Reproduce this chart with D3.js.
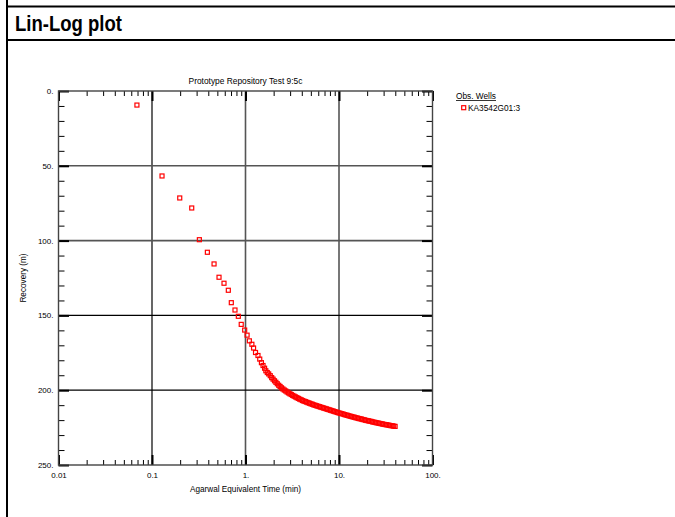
<!DOCTYPE html>
<html>
<head>
<meta charset="utf-8">
<script src="https://cdn.jsdelivr.net/npm/d3@7"></script>
<style>
  html, body { margin: 0; padding: 0; background: #fff; }
  svg { display: block; }
  text { font-family: "Liberation Sans", Arial, sans-serif; fill: #000; }
</style>
</head>
<body>
<svg id="chart" width="675" height="517"></svg>
<script>
// Observation well KA3542G01:3 — recovery vs. Agarwal equivalent time
const agarwalTime = [
  0.069, 0.128, 0.198, 0.266, 0.321, 0.391, 0.461, 0.521, 0.589, 0.655,
  0.705, 0.772, 0.838, 0.90, 0.98, 1.04, 1.10, 1.17, 1.22, 1.28,
  1.36, 1.42, 1.48, 1.54, 1.60, 1.65, 1.71, 1.77, 1.84,
  1.905, 1.972, 2.042, 2.113, 2.188, 2.265, 2.344, 2.427, 2.512, 2.600,
  2.692, 2.786, 2.884, 2.985, 3.090, 3.199, 3.311, 3.428, 3.548, 3.673,
  3.802, 3.936, 4.074, 4.217, 4.365, 4.519, 4.677, 4.842, 5.012, 5.188,
  5.370, 5.559, 5.754, 5.957, 6.166, 6.383, 6.607, 6.839, 7.079, 7.328,
  7.586, 7.852, 8.128, 8.414, 8.710, 9.016, 9.333, 9.661, 10.00, 10.35,
  10.72, 11.09, 11.48, 11.89, 12.30, 12.74, 13.18, 13.65, 14.13, 14.62,
  15.14, 15.67, 16.22, 16.79, 17.38, 17.99, 18.62, 19.28, 19.95, 20.65,
  21.38, 22.13, 22.91, 23.71, 24.55, 25.41, 26.30, 27.23, 28.18, 29.17,
  30.20, 31.26, 32.36, 33.50, 34.67, 35.89, 37.15, 38.46, 39.81
];
const recovery = [
  9.4, 56.8, 71.5, 78.2, 99.4, 107.8, 115.6, 124.5, 128.5, 133.2,
  141.5, 146.4, 150.6, 156.0, 159.8, 163.2, 167.0, 169.3, 171.8, 174.8,
  176.8, 179.2, 181.6, 183.5, 185.3, 187.0, 188.2, 189.1, 190.3,
  191.6, 192.6, 193.7, 194.7, 195.7, 196.7, 197.5, 198.4, 199.2, 199.9,
  200.5, 201.2, 201.8, 202.4, 202.9, 203.5, 204.0, 204.5, 205.0, 205.5,
  206.0, 206.4, 206.9, 207.3, 207.6, 208.0, 208.4, 208.7, 209.1, 209.4,
  209.8, 210.1, 210.4, 210.7, 211.0, 211.3, 211.6, 211.9, 212.2, 212.5,
  212.8, 213.1, 213.4, 213.7, 214.0, 214.3, 214.6, 214.9, 215.2, 215.5,
  215.7, 216.0, 216.3, 216.6, 216.8, 217.1, 217.4, 217.6, 217.9, 218.1,
  218.4, 218.6, 218.9, 219.1, 219.3, 219.6, 219.8, 220.1, 220.3, 220.5,
  220.7, 220.9, 221.2, 221.4, 221.6, 221.8, 222.0, 222.2, 222.4, 222.6,
  222.8, 223.0, 223.1, 223.3, 223.5, 223.7, 223.8, 224.0, 224.2
];

const xDecades = [0.01, 0.1, 1, 10, 100];
const xTickLabels = ["0.01", "0.1", "1.", "10.", "100."];
const xMinorTicks = [
  0.02, 0.03, 0.04, 0.05, 0.06, 0.07, 0.08, 0.09,
  0.2, 0.3, 0.4, 0.5, 0.6, 0.7, 0.8, 0.9,
  2, 3, 4, 5, 6, 7, 8, 9,
  20, 30, 40, 50, 60, 70, 80, 90
];
const yMajorTicks = [0, 50, 100, 150, 200, 250];
const yTickLabels = ["0.", "50.", "100.", "150.", "200.", "250."];
const yMinorTicks = [10, 20, 30, 40, 60, 70, 80, 90, 110, 120, 130, 140,
                     160, 170, 180, 190, 210, 220, 230, 240];

const pageTitle = "Lin-Log plot";
const chartTitle = "Prototype Repository Test 9:5c";
const xTitle = "Agarwal Equivalent Time (min)";
const yTitle = "Recovery (m)";
const legendTitle = "Obs. Wells";
const seriesName = "KA3542G01:3";

const svg = d3.select("#chart");

// Page header frame
svg.append("line").attr("x1", 7).attr("x2", 675).attr("y1", 6.5).attr("y2", 6.5)
  .attr("stroke", "#000").attr("stroke-width", 2);
svg.append("line").attr("x1", 7).attr("x2", 675).attr("y1", 40).attr("y2", 40)
  .attr("stroke", "#000").attr("stroke-width", 2);
svg.append("line").attr("x1", 7).attr("x2", 7).attr("y1", 0).attr("y2", 517)
  .attr("stroke", "#000").attr("stroke-width", 2);
svg.append("text").attr("x", 15).attr("y", 31)
  .attr("textLength", 107).attr("lengthAdjust", "spacingAndGlyphs")
  .style("font-family", "'Liberation Sans Narrow', 'Liberation Sans', Arial, sans-serif")
  .style("font-size", "22px").style("font-weight", "bold")
  .text(pageTitle);

// Plot area
const L = 58.5, R = 432.5, T = 91, B = 465;
const x = d3.scaleLog().domain([0.01, 100]).range([L, R]);
const y = d3.scaleLinear().domain([0, 250]).range([T, B]);

// Grid
const grid = svg.append("g");
grid.selectAll("line.vg").data(xDecades.slice(1, -1)).join("line")
  .attr("x1", d => x(d)).attr("x2", d => x(d)).attr("y1", T).attr("y2", B)
  .attr("stroke", (d, i) => i === 0 ? "#000" : "#555")
  .attr("stroke-width", (d, i) => i === 0 ? 1.2 : 1.6);
grid.selectAll("line.hg").data(yMajorTicks.slice(1, -1)).join("line")
  .attr("x1", L).attr("x2", R).attr("y1", d => y(d)).attr("y2", d => y(d))
  .attr("stroke", (d, i) => i < 2 ? "#555" : "#000")
  .attr("stroke-width", (d, i) => i < 2 ? 1.6 : 1.2);

// Axes with inward ticks
function styleAxis(g) {
  g.select(".domain").remove();
  g.selectAll(".tick line").attr("stroke", "#000");
  g.selectAll(".tick text").style("font-family", "'Liberation Sans', Arial, sans-serif")
    .style("font-size", "8px").attr("fill", "#000");
}
const fmtX = d => xTickLabels[xDecades.indexOf(d)];
const fmtY = d => yTickLabels[yMajorTicks.indexOf(d)];

svg.append("g").attr("transform", `translate(0,${B})`)
  .call(d3.axisBottom(x).tickValues(xMinorTicks).tickSize(-5).tickFormat(""))
  .call(styleAxis);
svg.append("g").attr("transform", `translate(0,${B})`)
  .call(d3.axisBottom(x).tickValues(xDecades).tickSize(-10).tickPadding(7).tickFormat(fmtX))
  .call(styleAxis)
  .call(g => g.selectAll(".tick line").attr("stroke-width", 2));
svg.append("g").attr("transform", `translate(0,${T})`)
  .call(d3.axisTop(x).tickValues(xMinorTicks).tickSize(-5).tickFormat(""))
  .call(styleAxis);
svg.append("g").attr("transform", `translate(0,${T})`)
  .call(d3.axisTop(x).tickValues(xDecades).tickSize(-10).tickFormat(""))
  .call(styleAxis)
  .call(g => g.selectAll(".tick line").attr("stroke-width", 2));

svg.append("g").attr("transform", `translate(${L},0)`)
  .call(d3.axisLeft(y).tickValues(yMinorTicks).tickSize(-6).tickFormat(""))
  .call(styleAxis);
svg.append("g").attr("transform", `translate(${L},0)`)
  .call(d3.axisLeft(y).tickValues(yMajorTicks).tickSize(-10.5).tickPadding(5).tickFormat(fmtY))
  .call(styleAxis)
  .call(g => g.selectAll(".tick line").attr("stroke-width", 2));
svg.append("g").attr("transform", `translate(${R},0)`)
  .call(d3.axisRight(y).tickValues(yMinorTicks).tickSize(-6).tickFormat(""))
  .call(styleAxis);
svg.append("g").attr("transform", `translate(${R},0)`)
  .call(d3.axisRight(y).tickValues(yMajorTicks).tickSize(-10.5).tickFormat(""))
  .call(styleAxis)
  .call(g => g.selectAll(".tick line").attr("stroke-width", 2));

// Plot frame
svg.append("rect").attr("x", L).attr("y", T).attr("width", R - L).attr("height", B - T)
  .attr("fill", "none").attr("stroke", "#444").attr("stroke-width", 1.4);

// Titles
svg.append("text").attr("x", (L + R) / 2).attr("y", 84).attr("text-anchor", "middle")
  .style("font-size", "8.4px").text(chartTitle);
svg.append("text").attr("x", (L + R) / 2).attr("y", 492).attr("text-anchor", "middle")
  .style("font-size", "8.2px").text(xTitle);
svg.append("text").attr("transform", `translate(25.5,${(T + B) / 2}) rotate(-90)`)
  .attr("text-anchor", "middle").style("font-size", "8.2px").text(yTitle);

// Data markers (hollow squares)
const data = agarwalTime.map((t, i) => ({ t, r: recovery[i] }));
const ms = 4;
svg.append("g").selectAll("rect").data(data).join("rect")
  .attr("x", d => x(d.t) - ms / 2).attr("y", d => y(d.r) - ms / 2)
  .attr("width", ms).attr("height", ms)
  .attr("fill", "none").attr("stroke", "#ff0000").attr("stroke-width", 1.2);

// Legend
const lg = svg.append("g");
lg.append("text").attr("x", 456).attr("y", 98.5).style("font-size", "8.3px").text(legendTitle);
lg.append("line").attr("x1", 456).attr("x2", 496).attr("y1", 100.5).attr("y2", 100.5)
  .attr("stroke", "#000").attr("stroke-width", 0.8);
lg.append("rect").attr("x", 461.7).attr("y", 105.7).attr("width", 4).attr("height", 4)
  .attr("fill", "#fff").attr("stroke", "#ff0000").attr("stroke-width", 1.2);
lg.append("text").attr("x", 468).attr("y", 110.5).style("font-size", "8.3px").text(seriesName);
</script>
</body>
</html>
